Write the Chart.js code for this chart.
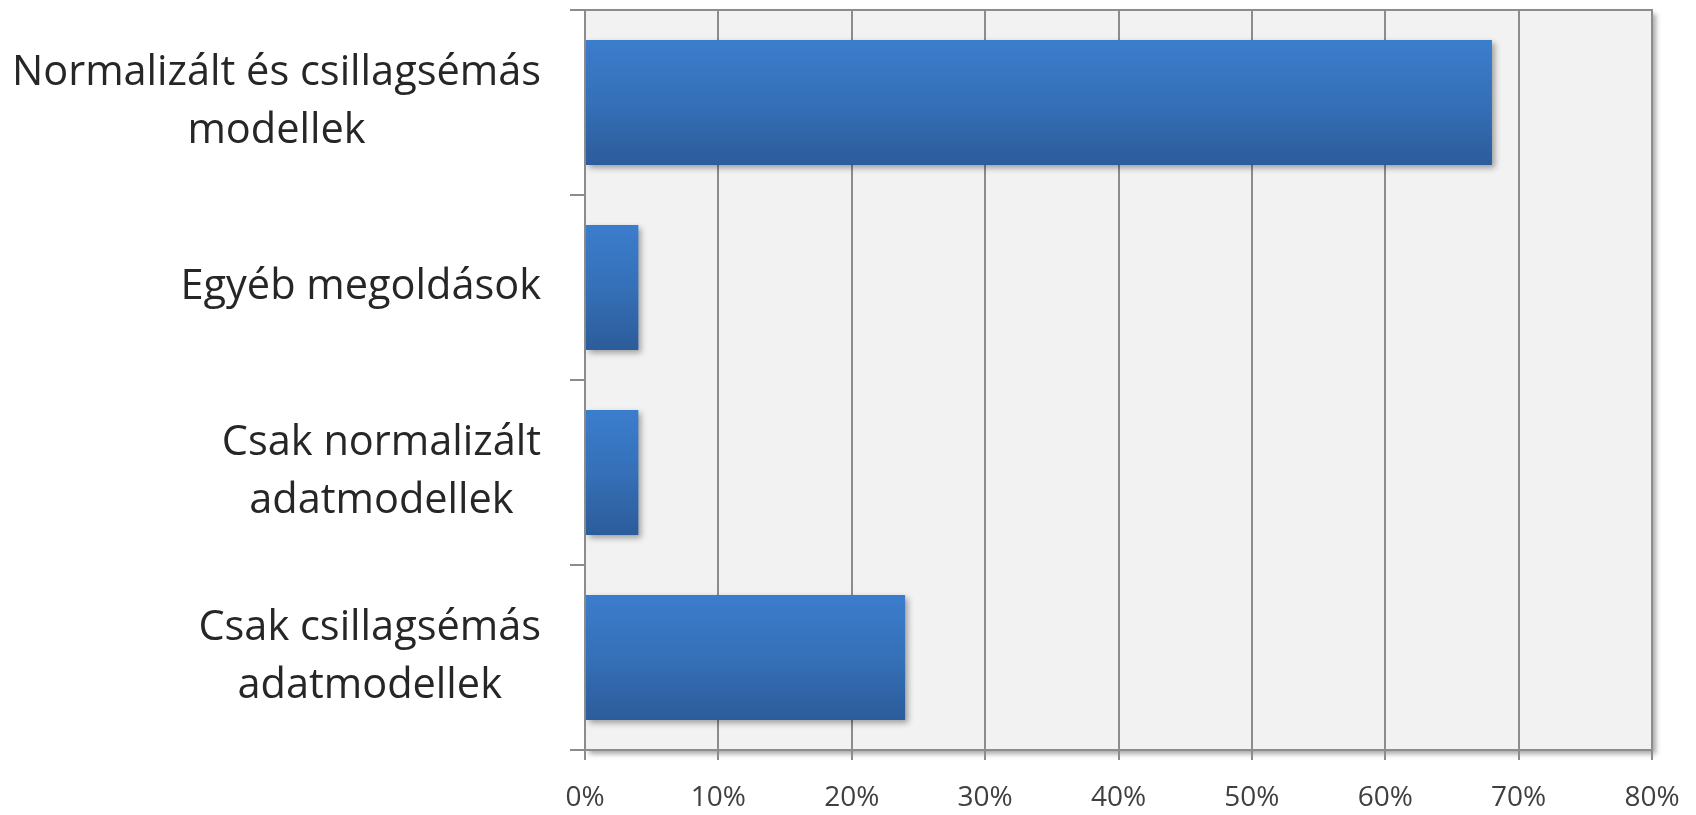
<!DOCTYPE html>
<html>
<head>
<meta charset="utf-8">
<script src="https://cdn.jsdelivr.net/npm/chart.js@4/dist/chart.umd.min.js"></script>
<style>
    html, body { margin: 0; padding: 0; background: #ffffff; }
    #wrap { width: 1696px; height: 815px; }
</style>
</head>
<body>
<div id="wrap"><canvas id="chart" width="1696" height="815"></canvas></div>
<script>
const categories = [
    ['Normalizált és csillagsémás', 'modellek'],
    ['Egyéb megoldások'],
    ['Csak normalizált', 'adatmodellek'],
    ['Csak csillagsémás', 'adatmodellek']
];
const shares = [68, 4, 4, 24];
const tickMax = 80;
const tickStep = 10;

const labelFont = '41.5px "Open Sans"';
const labelLine = 58;

// plot background, frame and shadow behind everything
const plotFrame = {
    id: 'plotFrame',
    beforeDraw(chart) {
        const { ctx, chartArea: a } = chart;
        ctx.save();
        ctx.shadowColor = 'rgba(0,0,0,0.35)';
        ctx.shadowBlur = 5;
        ctx.shadowOffsetX = 4;
        ctx.shadowOffsetY = 4;
        ctx.fillStyle = '#f2f2f2';
        ctx.fillRect(a.left, a.top, a.right - a.left, a.bottom - a.top);
        ctx.restore();
    },
    afterDraw(chart) {
        const { ctx, chartArea: a } = chart;
        ctx.save();
        ctx.strokeStyle = '#8c8c8c';
        ctx.lineWidth = 2;
        ctx.beginPath();
        ctx.moveTo(a.left, a.top);
        ctx.lineTo(a.right, a.top);
        ctx.lineTo(a.right, a.bottom);
        ctx.stroke();
        ctx.restore();
    }
};

// vertical gradient and soft shadow on each bar
const barLook = {
    id: 'barLook',
    beforeDatasetsDraw(chart) {
        const { ctx } = chart;
        chart.getDatasetMeta(0).data.forEach(bar => {
            const top = bar.y - bar.height / 2;
            const g = ctx.createLinearGradient(0, top, 0, top + bar.height);
            g.addColorStop(0, '#3b7dcd');
            g.addColorStop(0.5, '#3570b8');
            g.addColorStop(1, '#2c5c9a');
            bar.options.backgroundColor = g;
        });
        ctx.save();
        ctx.shadowColor = 'rgba(0,0,0,0.35)';
        ctx.shadowBlur = 6;
        ctx.shadowOffsetX = 3;
        ctx.shadowOffsetY = 3;
    },
    afterDatasetsDraw(chart) {
        chart.ctx.restore();
    }
};

// category labels: block right aligned, lines centred within the block
const centredLabels = {
    id: 'centredLabels',
    afterDraw(chart) {
        const { ctx } = chart;
        const scale = chart.scales.y;
        const right = scale.right - 15 - 29;
        ctx.save();
        ctx.font = labelFont;
        ctx.fillStyle = '#262626';
        ctx.textAlign = 'center';
        ctx.textBaseline = 'middle';
        chart.data.labels.forEach((lines, i) => {
            const y = scale.getPixelForTick(i);
            const w = Math.max(...lines.map(l => ctx.measureText(l).width));
            const x = right - w / 2;
            lines.forEach((line, j) => {
                ctx.fillText(line, x, y + (j - (lines.length - 1) / 2) * labelLine);
            });
        });
        ctx.restore();
    }
};

new Chart(document.getElementById('chart').getContext('2d'), {
    type: 'bar',
    data: {
        labels: categories,
        datasets: [{
            data: shares,
            // scriptable so every bar gets its own options object
            backgroundColor: () => '#3570b8',
            borderWidth: 0,
            categoryPercentage: 0.676,
            barPercentage: 1
        }]
    },
    options: {
        indexAxis: 'y',
        responsive: false,
        animation: false,
        layout: { padding: { left: 13, right: 44, top: 10, bottom: 0 } },
        plugins: {
            legend: { display: false },
            tooltip: { enabled: false }
        },
        scales: {
            x: {
                min: 0,
                max: tickMax,
                ticks: {
                    stepSize: tickStep,
                    color: '#404040',
                    padding: 21,
                    font: { family: 'Open Sans', size: 28 },
                    callback: v => v + '%'
                },
                grid: {
                    color: '#8c8c8c',
                    lineWidth: 2,
                    tickLength: 10
                },
                border: { color: '#8c8c8c', width: 2 },
                afterFit: scale => {
                    scale.height = 65;
                    scale.paddingLeft = 0;
                    scale.paddingRight = 0;
                }
            },
            y: {
                ticks: { display: false },
                grid: {
                    offset: true,
                    drawOnChartArea: false,
                    color: '#8c8c8c',
                    lineWidth: 2,
                    tickLength: 15
                },
                border: { color: '#8c8c8c', width: 2 },
                afterFit: scale => {
                    scale.width = 572;
                    scale.paddingTop = 0;
                    scale.paddingBottom = 0;
                }
            }
        }
    },
    plugins: [plotFrame, barLook, centredLabels]
});
</script>
</body>
</html>
